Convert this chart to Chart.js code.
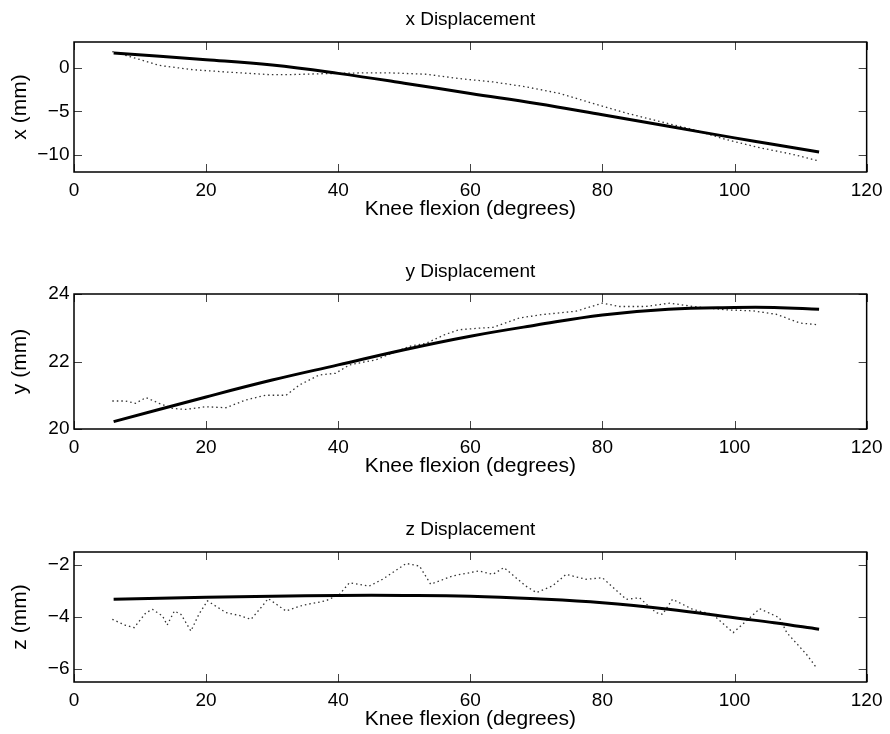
<!DOCTYPE html>
<html>
<head>
<meta charset="utf-8">
<script src="https://cdn.jsdelivr.net/npm/chart.js@4/dist/chart.umd.min.js"></script>
<style>
  html,body{margin:0;padding:0;background:#fff;overflow:hidden;}
  #wrap{position:relative;width:890px;height:734px;}
  canvas{position:absolute;left:0;}
</style>
</head>
<body>
<div id="wrap">
  <canvas id="cx" width="890" height="224" style="top:0px"></canvas>
  <canvas id="cy" width="890" height="229" style="top:252px"></canvas>
  <canvas id="cz" width="890" height="224" style="top:510px"></canvas>
</div>
<script>
// ---- data ----
const angleTicks = [0, 20, 40, 60, 80, 100, 120];

// smooth fitted curves (solid)
const fitAngle = [6, 20, 30, 40, 50, 60, 70, 80, 90, 100, 106, 112.8];
const fitX = [1.72, 0.96, 0.34, -0.62, -1.75, -2.95, -4.1, -5.4, -6.73, -8.06, -8.83, -9.7];
const fitY = [20.22, 20.95, 21.45, 21.9, 22.35, 22.75, 23.08, 23.38, 23.55, 23.6, 23.6, 23.55];
const fitZ = [-3.32, -3.24, -3.2, -3.17, -3.17, -3.2, -3.3, -3.45, -3.7, -4.03, -4.22, -4.47];

// measured (dotted)
const measXAngle = [5.8, 10.4, 12.9, 17.9, 23, 29.5, 33, 38, 43.2, 48.2, 53.3, 58.3, 63.4, 68.4, 73.5, 78.5, 83.6, 88.6, 93.7, 98.7, 103.8, 108.8, 112.6];
const measX = [1.9, 0.88, 0.3, -0.19, -0.46, -0.76, -0.76, -0.65, -0.57, -0.57, -0.72, -1.22, -1.6, -2.17, -2.93, -4.07, -5.2, -6.16, -7.1, -8.25, -9.2, -9.96, -10.7];

const measYAngle = [5.8, 7.8, 9.3, 10.9, 12.9, 14.9, 16.9, 20, 23, 26, 29, 32.1, 34.1, 37.1, 39.6, 41.7, 45.7, 48.2, 50.8, 53.3, 56.3, 58.3, 61.4, 63.4, 67.4, 70.9, 76, 80, 82.6, 86.6, 90.2, 93.7, 98.8, 102.8, 106.3, 109.9, 112.6];
const measY = [20.83, 20.83, 20.76, 20.93, 20.76, 20.61, 20.58, 20.66, 20.63, 20.86, 21.0, 21.0, 21.3, 21.6, 21.65, 21.9, 22.05, 22.25, 22.45, 22.54, 22.81, 22.94, 22.99, 23.01, 23.29, 23.39, 23.49, 23.73, 23.63, 23.63, 23.73, 23.63, 23.53, 23.5, 23.4, 23.14, 23.09];

const measZAngle = [5.8, 7.8, 9.1, 10.9, 11.9, 13.4, 14.1, 15.2, 16.2, 17.7, 18.9, 20.2, 23, 25, 26.8, 28.5, 29.4, 32.1, 34.6, 38.1, 40.2, 41.7, 44.7, 46.7, 50.3, 52.3, 54, 57.3, 61.3, 63.4, 65.1, 68.4, 70, 72.4, 74.5, 77.5, 80, 83.6, 85.6, 88.1, 89.1, 90.6, 93.7, 96.7, 99.8, 101.8, 103.8, 106.8, 107.9, 110.9, 112.4];
const measZ = [-4.09, -4.32, -4.41, -3.83, -3.71, -3.96, -4.31, -3.77, -3.9, -4.54, -3.9, -3.38, -3.83, -3.94, -4.09, -3.58, -3.29, -3.77, -3.55, -3.38, -3.13, -2.68, -2.81, -2.55, -1.94, -2.04, -2.74, -2.42, -2.23, -2.36, -2.1, -2.81, -3.06, -2.81, -2.36, -2.55, -2.49, -3.32, -3.26, -3.83, -3.9, -3.32, -3.71, -3.9, -4.6, -4.15, -3.68, -4.03, -4.6, -5.44, -5.95];

const xTicks = [-10, -5, 0];
const yTicks = [20, 22, 24];
const zTicks = [-6, -4, -2];

const FONT = "'Liberation Sans', Arial, Helvetica, sans-serif";

const pts = (a, v) => a.map((t, i) => ({x: t, y: v[i]}));
const fmtNum = v => String(v).replace('-', '\u2212');

// frame round the plot + inward tick marks on all four sides
const boxPlugin = {
  id: 'box',
  afterDraw(chart) {
    const {ctx, chartArea: a, scales: {x, y}} = chart;
    ctx.save();
    ctx.strokeStyle = '#444'; ctx.lineWidth = 1;
    ctx.beginPath();
    x.ticks.forEach(t => {
      const px = Math.round(x.getPixelForValue(t.value)) + 0.5;
      ctx.moveTo(px, a.bottom); ctx.lineTo(px, a.bottom - 8);
      ctx.moveTo(px, a.top); ctx.lineTo(px, a.top + 8);
    });
    y.ticks.forEach(t => {
      const py = Math.round(y.getPixelForValue(t.value)) + 0.5;
      ctx.moveTo(a.left, py); ctx.lineTo(a.left + 8, py);
      ctx.moveTo(a.right, py); ctx.lineTo(a.right - 8, py);
    });
    ctx.stroke();
    ctx.strokeStyle = '#000'; ctx.lineWidth = 1.5;
    ctx.strokeRect(a.left, a.top, a.right - a.left, a.bottom - a.top);
    ctx.restore();
  }
};

function makeChart(id, title, yLabel, fitVals, mAngle, mVals, yMin, yMax, yTickVals) {
  return new Chart(document.getElementById(id), {
    type: 'line',
    data: {
      datasets: [
        {data: pts(fitAngle, fitVals), borderColor: '#000', borderWidth: 3,
         pointRadius: 0, tension: 0.4, fill: false},
        {data: pts(mAngle, mVals), borderColor: '#333', borderWidth: 1.3,
         borderDash: [1.5, 3], pointRadius: 0, tension: 0, fill: false}
      ]
    },
    options: {
      responsive: false, animation: false, devicePixelRatio: 1,
      layout: {padding: {left: 0, right: 23, top: 0, bottom: 0}},
      plugins: {
        legend: {display: false}, tooltip: {enabled: false},
        title: {display: true, text: title, color: '#000', fullSize: false,
                font: {family: FONT, size: 19, weight: 'normal', lineHeight: 1.2},
                padding: {top: 8.6, bottom: 10.6}}
      },
      scales: {
        x: {
          type: 'linear', min: 0, max: 120,
          afterBuildTicks: s => { s.ticks = angleTicks.map(v => ({value: v})); },
          afterFit: s => { s.height = 52; },
          grid: {display: false, drawTicks: false}, border: {display: false},
          ticks: {color: '#000', padding: 7.5, maxRotation: 0,
                  font: {family: FONT, size: 19}, callback: v => fmtNum(v)},
          title: {display: true, text: 'Knee flexion (degrees)', color: '#000',
                  font: {family: FONT, size: 21, lineHeight: 1.2},
                  padding: {top: 0, bottom: 2.2}}
        },
        y: {
          type: 'linear', min: yMin, max: yMax,
          afterBuildTicks: s => { s.ticks = yTickVals.map(v => ({value: v})); },
          afterFit: s => { s.width = 74; },
          grid: {display: false, drawTicks: false}, border: {display: false},
          ticks: {color: '#000', padding: 4.5,
                  font: {family: FONT, size: 19}, callback: v => fmtNum(v)},
          title: {display: true, text: yLabel, color: '#000',
                  font: {family: FONT, size: 21, lineHeight: 1.2},
                  padding: {top: 8, bottom: 0}}
        }
      }
    },
    plugins: [boxPlugin]
  });
}

makeChart('cx', 'x Displacement', 'x (mm)', fitX, measXAngle, measX, -12, 3, xTicks);
makeChart('cy', 'y Displacement', 'y (mm)', fitY, measYAngle, measY, 20, 24, yTicks);
makeChart('cz', 'z Displacement', 'z (mm)', fitZ, measZAngle, measZ, -6.5, -1.5, zTicks);
</script>
</body>
</html>
